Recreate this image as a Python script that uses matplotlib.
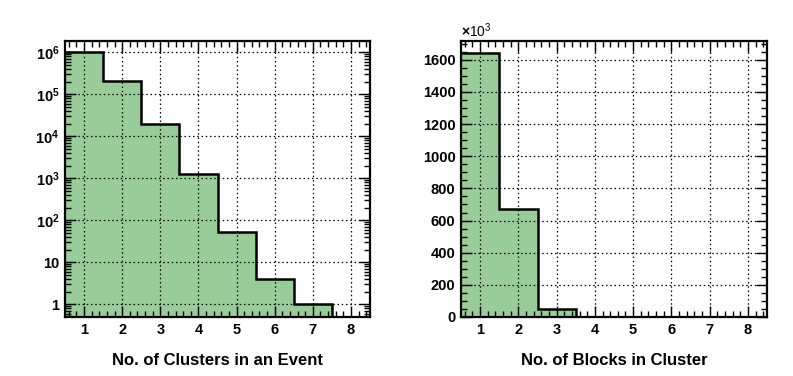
import numpy as np
import matplotlib
matplotlib.use("Agg")
import matplotlib.pyplot as plt
from matplotlib.ticker import MultipleLocator, FixedLocator, FuncFormatter, NullFormatter

plt.rcParams['font.family'] = 'Liberation Sans'
plt.rcParams['font.weight'] = 'bold'
plt.rcParams['mathtext.fontset'] = 'custom'
plt.rcParams['mathtext.rm'] = 'Liberation Sans:bold'
plt.rcParams['mathtext.bf'] = 'Liberation Sans:bold'

# data
bins = [1, 2, 3, 4, 5, 6, 7, 8]
clusters_per_event = [1.0e6, 2.07e5, 1.93e4, 1245, 52, 4, 1, 0]
blocks_per_cluster = [1642e3, 671e3, 52e3, 2e3, 100, 0, 0, 0]

fill_col = '#99cc99'


def style_axes(ax):
    for s in ax.spines.values():
        s.set_linewidth(1.6)
    ax.tick_params(which='both', direction='in', top=True, right=True,
                   labelsize=10.5, width=1.0, pad=4)
    ax.tick_params(which='major', length=8)
    ax.tick_params(which='minor', length=4)
    ax.xaxis.set_major_locator(MultipleLocator(1))
    ax.xaxis.set_minor_locator(MultipleLocator(0.2))
    ax.grid(True, which='major', linestyle=(0, (1.2, 2.2)), color='black', linewidth=0.9)
    ax.set_axisbelow(False)
    ax.set_xlim(0.5, 8.5)


def draw_hist(ax, vals, low):
    edges = np.array(bins + [bins[-1] + 1], dtype=float) - 0.5
    v = np.maximum(np.array(vals, dtype=float), low)
    ax.stairs(v, edges, fill=True, color=fill_col, baseline=low, zorder=1)
    ax.stairs(v, edges, color='black', linewidth=1.8, baseline=None, zorder=3)


fig = plt.figure(figsize=(7.93, 3.76), dpi=100)

# left: clusters per event, log scale
ax1 = fig.add_axes([65 / 793, 59 / 376, 305 / 793, 276 / 376])
ax1.set_yscale('log')
ylow1 = 0.5
ax1.set_ylim(ylow1, 1.86e6)
draw_hist(ax1, clusters_per_event, ylow1)
style_axes(ax1)
decades = [10.0 ** e for e in range(0, 7)]
minors = [m * 10.0 ** e for e in range(-1, 7) for m in range(2, 10)]
minors = [m for m in minors if ylow1 < m < 1.86e6]
ax1.yaxis.set_major_locator(FixedLocator(decades))
ax1.yaxis.set_minor_locator(FixedLocator(minors))
ax1.yaxis.set_minor_formatter(NullFormatter())


def log_fmt(y, pos):
    e = int(round(np.log10(y)))
    if e == 0:
        return '1'
    if e == 1:
        return '10'
    return r'$\mathbf{10^{%d}}$' % e


ax1.yaxis.set_major_formatter(FuncFormatter(log_fmt))
ax1.set_xlabel('No. of Clusters in an Event', fontsize=12, fontweight='bold', labelpad=12)

# right: blocks per cluster, linear scale in units of 1e3
ax2 = fig.add_axes([461 / 793, 59 / 376, 306 / 793, 276 / 376])
ax2.set_ylim(0, 1717e3)
draw_hist(ax2, blocks_per_cluster, 0)
style_axes(ax2)
ax2.yaxis.set_major_locator(MultipleLocator(200e3))
ax2.yaxis.set_minor_locator(MultipleLocator(50e3))
ax2.yaxis.set_major_formatter(FuncFormatter(lambda y, pos: '%d' % round(y / 1e3)))
ax2.set_xlabel('No. of Blocks in Cluster', fontsize=12, fontweight='bold', labelpad=12)
ax2.text(0.0, 1.005, r'$\times\mathregular{10^{3}}$', transform=ax2.transAxes,
         fontsize=10, ha='left', va='bottom', fontweight='normal')

fig.savefig('out.png', dpi=100)
